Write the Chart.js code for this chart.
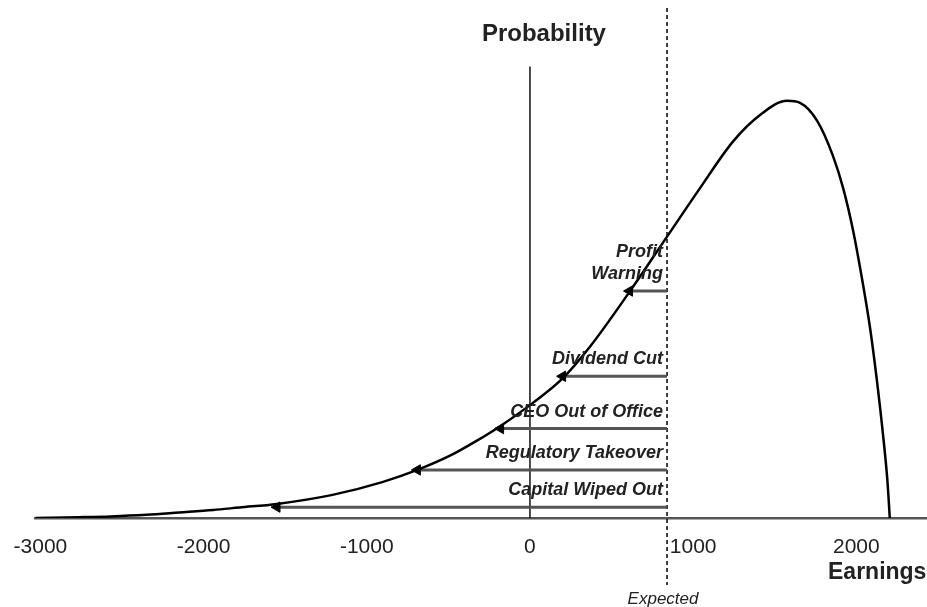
<!DOCTYPE html>
<html>
<head>
<meta charset="utf-8">
<script src="https://cdn.jsdelivr.net/npm/chart.js@4"></script>
<style>
  html, body { margin: 0; padding: 0; background: #fff; overflow: hidden; }
</style>
</head>
<body>
<canvas id="chart" width="927" height="607"></canvas>
<script>
// earnings distribution (x = earnings, y = probability in arbitrary units, peak ~100)
const curveX = [-3030, -2760, -2570, -2350, -2150, -1940, -1780, -1550, -1210, -900, -690, -490, -325, -185, 20, 200, 370, 610, 840, 1040, 1245, 1410, 1575, 1655, 1760, 1855, 1920, 1980, 2035, 2085, 2125, 2160, 2190, 2205];
const curveY = [0, 0.19, 0.38, 0.77, 1.32, 1.92, 2.52, 3.37, 5.53, 8.65, 11.5, 14.9, 18.5, 21.9, 27.6, 33.4, 41.1, 54.1, 67.3, 78.8, 90.1, 96.4, 99.8, 99.3, 95.0, 86.8, 78.8, 68.8, 57.2, 45.2, 33.2, 21.2, 9.1, 0];

const tickValues = [-3000, -2000, -1000, 0, 1000, 2000];
const tickLabels = ["-3000", "-2000", "-1000", "0", "1000", "2000"];

const expectedEarnings = 840;
const probAxisTop = 108;

// risk events: label lines, probability level of the arrow, where the arrow meets the curve
const eventLabels = [["Profit", "Warning"], ["Dividend Cut"], ["CEO Out of Office"], ["Regulatory Takeover"], ["Capital Wiped Out"]];
const eventLevels = [54.3, 33.9, 21.4, 11.5, 2.6];
const eventCurveX = [610, 200, -180, -690, -1550];

const FONT = "'Liberation Sans', Arial, sans-serif";

const curveData = curveX.map((x, i) => ({ x, y: curveY[i] }));

const eventLines = eventLevels.map((lvl, i) => ({
  data: [{ x: eventCurveX[i], y: lvl }, { x: expectedEarnings, y: lvl }],
  showLine: true,
  borderColor: "#555",
  borderWidth: 3,
  pointRadius: 0,
  order: 3
}));

// text labels drawn on top
const textPlugin = {
  id: "textLabels",
  afterDatasetsDraw(chart) {
    const { ctx, scales: { x, y }, chartArea } = chart;
    ctx.save();
    ctx.fillStyle = "#222";

    ctx.font = "bold 24px " + FONT;
    ctx.textAlign = "center";
    ctx.textBaseline = "middle";
    ctx.fillText("Probability", x.getPixelForValue(0) + 14, chartArea.top + 26);

    const ex = x.getPixelForValue(expectedEarnings);
    ctx.font = "italic bold 18px " + FONT;
    ctx.textAlign = "right";
    eventLabels.forEach((lines, i) => {
      const base = y.getPixelForValue(eventLevels[i]) - 17;
      lines.slice().reverse().forEach((t, j) => {
        ctx.fillText(t, ex - 4, base - j * 22);
      });
    });

    ctx.font = "italic 17px " + FONT;
    ctx.textAlign = "center";
    ctx.fillText("Expected", ex - 4, chartArea.bottom + 81);

    ctx.font = "bold 23px " + FONT;
    ctx.textAlign = "left";
    ctx.fillText("Earnings", 828, chartArea.bottom + 55);
    ctx.restore();
  }
};

new Chart(document.getElementById("chart"), {
  type: "scatter",
  data: {
    datasets: [
      {
        data: curveData,
        showLine: true,
        borderColor: "#000",
        borderWidth: 2.5,
        pointRadius: 0,
        cubicInterpolationMode: "monotone",
        order: 1
      },
      {
        data: eventLevels.map((lvl, i) => ({ x: eventCurveX[i], y: lvl })),
        pointStyle: "triangle",
        rotation: 270,
        pointRadius: 6,
        backgroundColor: "#000",
        borderColor: "#000",
        borderWidth: 1,
        order: 0
      },
      {
        data: [{ x: 0, y: 0 }, { x: 0, y: probAxisTop }],
        showLine: true,
        borderColor: "#111",
        borderWidth: 1.5,
        pointRadius: 0,
        order: 4
      },
      {
        data: [{ x: expectedEarnings, y: 122 }, { x: expectedEarnings, y: -16 }],
        showLine: true,
        borderColor: "#000",
        borderWidth: 1.5,
        borderDash: [4, 3],
        pointRadius: 0,
        clip: false,
        order: 5
      },
      ...eventLines
    ]
  },
  options: {
    responsive: false,
    animation: false,
    devicePixelRatio: 1,
    layout: { autoPadding: false, padding: { left: 35, right: 0, top: 8, bottom: 0 } },
    plugins: { legend: { display: false }, tooltip: { enabled: false } },
    scales: {
      x: {
        type: "linear",
        min: -3033,
        max: 2433,
        afterBuildTicks: (scale) => { scale.ticks = tickValues.map(v => ({ value: v })); },
        afterFit: (scale) => {
          scale.paddingLeft = 0;
          scale.paddingRight = 0;
          scale.height = 89;
        },
        ticks: {
          callback: (v, i) => tickLabels[i],
          font: { family: FONT, size: 21 },
          color: "#222",
          padding: 17,
          maxRotation: 0,
          autoSkip: false
        },
        grid: { display: false, drawTicks: false },
        border: { display: true, color: "#555", width: 2.5 }
      },
      y: { display: false, min: 0, max: 122 }
    }
  },
  plugins: [textPlugin]
});
</script>
</body>
</html>
